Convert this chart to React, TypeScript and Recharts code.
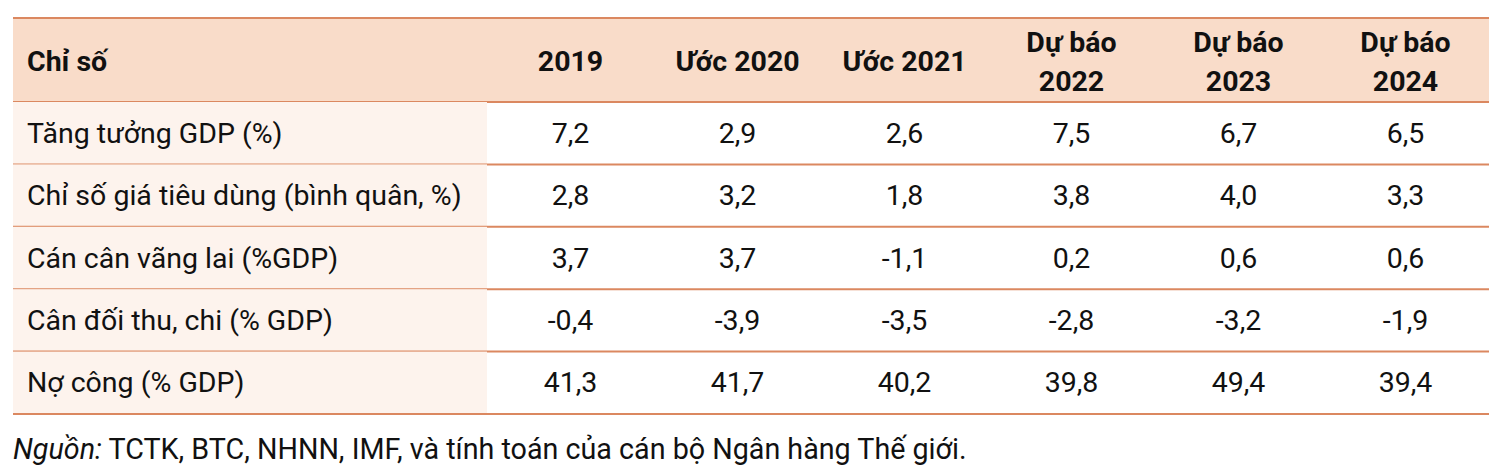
import React from 'react';
import { ScatterChart, Scatter, XAxis, YAxis } from 'recharts';

// table content
const columns = ['2019', 'Ước 2020', 'Ước 2021', 'Dự báo\n2022', 'Dự báo\n2023', 'Dự báo\n2024'];
const indicators = [
  'Tăng tưởng GDP (%)',
  'Chỉ số giá tiêu dùng (bình quân, %)',
  'Cán cân vãng lai (%GDP)',
  'Cân đối thu, chi (% GDP)',
  'Nợ công (% GDP)',
];
const gdpGrowth = [7.2, 2.9, 2.6, 7.5, 6.7, 6.5];
const cpi = [2.8, 3.2, 1.8, 3.8, 4.0, 3.3];
const currentAccount = [3.7, 3.7, -1.1, 0.2, 0.6, 0.6];
const fiscalBalance = [-0.4, -3.9, -3.5, -2.8, -3.2, -1.9];
const publicDebt = [41.3, 41.7, 40.2, 39.8, 49.4, 39.4];
const cornerLabel = 'Chỉ số';

const seriesRows = [gdpGrowth, cpi, currentAccount, fiscalBalance, publicDebt];

const cells = seriesRows.flatMap((vals, r) =>
  vals.map((v, c) => ({ col: columns[c], row: indicators[r], value: v }))
);

const FONT = 'Roboto, "Noto Sans", sans-serif';
const FS = 28.5;
const TEXT = '#111';
const HEADER_BG = '#f9dcc9';
const LABEL_BG = '#fdf3ed';
const RULE = '#db8860';

const TABLE_LEFT = 13;
const TABLE_RIGHT = 1489;
const HEAD_TOP = 18;
const HEAD_H = 84;
const LABEL_W = 474;

const fmt = (v: number) => v.toFixed(1).replace('.', ',');

const HeaderTick = (props: any) => {
  const { x, payload, index } = props;
  const half = payload.offset || 83.5;
  const lines = String(payload.value).split('\n');
  const mid = HEAD_TOP + HEAD_H / 2 + 1.5;
  const lh = 39;
  return (
    <g>
      {index === 0 && (
        <g>
          <rect x={TABLE_LEFT} y={HEAD_TOP} width={LABEL_W} height={HEAD_H} fill={HEADER_BG} />
          <line x1={TABLE_LEFT} x2={TABLE_LEFT + LABEL_W} y1={HEAD_TOP} y2={HEAD_TOP} stroke={RULE} strokeWidth={2} />
          <line x1={TABLE_LEFT} x2={TABLE_LEFT + LABEL_W} y1={HEAD_TOP + HEAD_H} y2={HEAD_TOP + HEAD_H} stroke={RULE} strokeWidth={2} />
          <text x={TABLE_LEFT + 14} y={mid} dominantBaseline="central" fontFamily={FONT} fontSize={FS} fontWeight={700} fill={TEXT}>
            {cornerLabel}
          </text>
        </g>
      )}
      <rect x={x - half} y={HEAD_TOP} width={half * 2} height={HEAD_H} fill={HEADER_BG} />
      <line x1={x - half} x2={x + half} y1={HEAD_TOP} y2={HEAD_TOP} stroke={RULE} strokeWidth={2} />
      <line x1={x - half} x2={x + half} y1={HEAD_TOP + HEAD_H} y2={HEAD_TOP + HEAD_H} stroke={RULE} strokeWidth={2} />
      {lines.map((l, i) => (
        <text
          key={i}
          x={x}
          y={mid + (i - (lines.length - 1) / 2) * lh}
          textAnchor="middle"
          dominantBaseline="central"
          fontFamily={FONT}
          fontSize={FS}
          fontWeight={700}
          fill={TEXT}
        >
          {l}
        </text>
      ))}
    </g>
  );
};

const RowTick = (props: any) => {
  const { y, payload } = props;
  const half = payload.offset || 31.2;
  return (
    <g>
      <rect x={TABLE_LEFT} y={y - half} width={LABEL_W} height={half * 2} fill={LABEL_BG} />
      <line x1={TABLE_LEFT} x2={TABLE_RIGHT} y1={y + half} y2={y + half} stroke={RULE} strokeWidth={2} />
      <text x={TABLE_LEFT + 14} y={y} dominantBaseline="central" fontFamily={FONT} fontSize={FS} fill={TEXT}>
        {payload.value}
      </text>
    </g>
  );
};

const CellText = (props: any) => {
  const { cx, cy, payload } = props;
  return (
    <text x={cx} y={cy} textAnchor="middle" dominantBaseline="central" fontFamily={FONT} fontSize={FS} fill={TEXT}>
      {fmt(payload.value)}
    </text>
  );
};

export default function App() {
  return (
    <div style={{ position: 'relative', width: 1500, height: 476, margin: -8, background: '#fff' }}>
      <ScatterChart width={1500} height={476} margin={{ top: HEAD_TOP, right: 1500 - TABLE_RIGHT, bottom: 62, left: TABLE_LEFT }}>
        <XAxis
          xAxisId="c"
          type="category"
          dataKey="col"
          orientation="top"
          height={HEAD_H}
          allowDuplicatedCategory={false}
          axisLine={false}
          tickLine={false}
          interval={0}
          tick={<HeaderTick />}
        />
        <YAxis
          yAxisId="r"
          type="category"
          dataKey="row"
          width={LABEL_W}
          reversed
          allowDuplicatedCategory={false}
          axisLine={false}
          tickLine={false}
          interval={0}
          tick={<RowTick />}
        />
        <Scatter xAxisId="c" yAxisId="r" data={cells} shape={<CellText />} isAnimationActive={false} />
      </ScatterChart>
      <div
        style={{
          position: 'absolute',
          left: TABLE_LEFT,
          top: 432,
          fontFamily: FONT,
          fontSize: 28.7,
          color: TEXT,
          whiteSpace: 'nowrap',
        }}
      >
        <i>Nguồn:</i> TCTK, BTC, NHNN, IMF, và tính toán của cán bộ Ngân hàng Thế giới.
      </div>
      <div style={{ position: 'absolute', left: 0, top: 0, width: 1500, height: 1, background: '#c4c4c4' }} />
      <div style={{ position: 'absolute', left: 0, top: 0, width: 1, height: 476, background: '#c4c4c4' }} />
    </div>
  );
}
